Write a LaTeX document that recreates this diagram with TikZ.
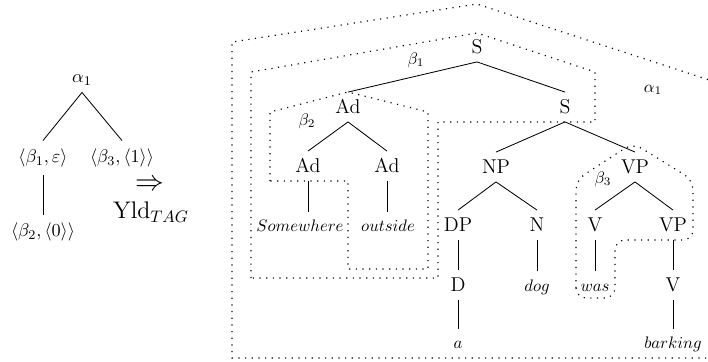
\documentclass[tikz,border=0pt]{standalone}
\usepackage{amsmath}
\begin{document}
\begin{tikzpicture}[x=0.6pt,y=-0.6pt,
  tn/.style={font=\large, inner sep=0pt, outer sep=4.8pt, text height=8.3pt, text depth=0pt},
  lf/.style={inner sep=0pt, outer sep=5pt, text height=7pt, text depth=2pt, anchor=base},
  lt/.style={font=\fontsize{11}{13}\selectfont, inner sep=2pt, outer sep=3pt},
  lab/.style={inner sep=2pt, outer sep=2.3pt},
  con/.style={line width=0.5pt},
  dotb/.style={line width=0.7pt, dash pattern=on 0.7pt off 3.3pt}]
\useasboundingbox (0,0) rectangle (708,362);
% left tree
\node[lab, font=\fontsize{11}{13}\selectfont] (a1) at (82,80) {$\alpha_1$};
\node[lt] (b1) at (43,158) {$\langle\beta_1,\varepsilon\rangle$};
\node[lt] (b3) at (122,158) {$\langle\beta_3,\langle1\rangle\rangle$};
\node[lt] (b2) at (43,232) {$\langle\beta_2,\langle0\rangle\rangle$};
\draw[con] (a1.south) -- (b1.north);
\draw[con] (a1.south) -- (b3.north);
\draw[con] (b1) -- (b2);
\node[inner sep=0pt, text height=6pt, text depth=0pt] (arr) at (150,186) {\fontsize{16}{19}\selectfont$\Rightarrow$};
\node[inner sep=0pt] (yld) at (151,212) {\Large Yld$_{TAG}$};
% right tree nodes
\node[tn] (s0) at (477,47) {S};
\node[tn] (ad0) at (348,107) {Ad};
\node[tn] (s1) at (565,107) {S};
\node[tn] (ad1) at (308,166) {Ad};
\node[tn] (ad2) at (387,166) {Ad};
\node[tn] (np) at (496,167) {NP};
\node[tn] (vp) at (635,167) {VP};
\node[tn] (dp) at (458,225) {DP};
\node[tn] (n) at (537,225) {N};
\node[tn] (v) at (595,225) {V};
\node[tn] (vp2) at (673,225) {VP};
\node[tn] (d) at (458,285) {D};
\node[tn] (v2) at (673,285) {V};
\node[lf] (sw) at (300,232) {$Somewhere$};
\node[lf] (os) at (388,232) {$outside$};
\node[lf] (la) at (458,349) {$a$};
\node[lf] (dog) at (537,291) {$dog$};
\node[lf] (was) at (595,291) {$was$};
\node[lf] (bark) at (673,349) {$barking$};
% edges
\draw[con] (s0.south) -- (ad0.north);
\draw[con] (s0.south) -- (s1.north);
\draw[con] (ad0.south) -- (ad1.north);
\draw[con] (ad0.south) -- (ad2.north);
\draw[con] (ad1.south) -- (ad1.south |- sw.north);
\draw[con] (ad2.south) -- (ad2.south |- os.north);
\draw[con] (s1.south) -- (np.north);
\draw[con] (s1.south) -- (vp.north);
\draw[con] (np.south) -- (dp.north);
\draw[con] (np.south) -- (n.north);
\draw[con] (dp.south) -- (d.north);
\draw[con] (d.south) -- (la.north);
\draw[con] (n.south) -- (dog.north);
\draw[con] (vp.south) -- (v.north);
\draw[con] (vp.south) -- (vp2.north);
\draw[con] (v.south) -- (was.north);
\draw[con] (vp2.south) -- (v2.north);
\draw[con] (v2.south) -- (bark.north);
% dotted regions
\draw[dotb] (708,79.6) -- (477,4) -- (232,42) -- (232,358) -- (708,358);
\draw[dotb] (251,278) -- (251,72) -- (477,33) -- (595,72) -- (595,122) -- (438,122) -- (438,278) -- cycle;
\draw[dotb] (270,181) -- (270,112) -- (348,92) -- (428,112) -- (428,269) -- (348,269) -- (348,181) -- cycle;
\draw[dotb, rounded corners=6pt] (576,298) -- (576,180) -- (633,143) -- (693,180) -- (693,240) -- (615,240) -- (615,298) -- cycle;
% labels
\node[inner sep=0pt] (lb1) at (416,60) {$\beta_1$};
\node[inner sep=0pt] (lb2) at (307,121) {$\beta_2$};
\node[inner sep=0pt] (lb3) at (603,179) {$\beta_3$};
\node[inner sep=0pt] (la1) at (653,90) {$\alpha_1$};
\end{tikzpicture}
\end{document}
